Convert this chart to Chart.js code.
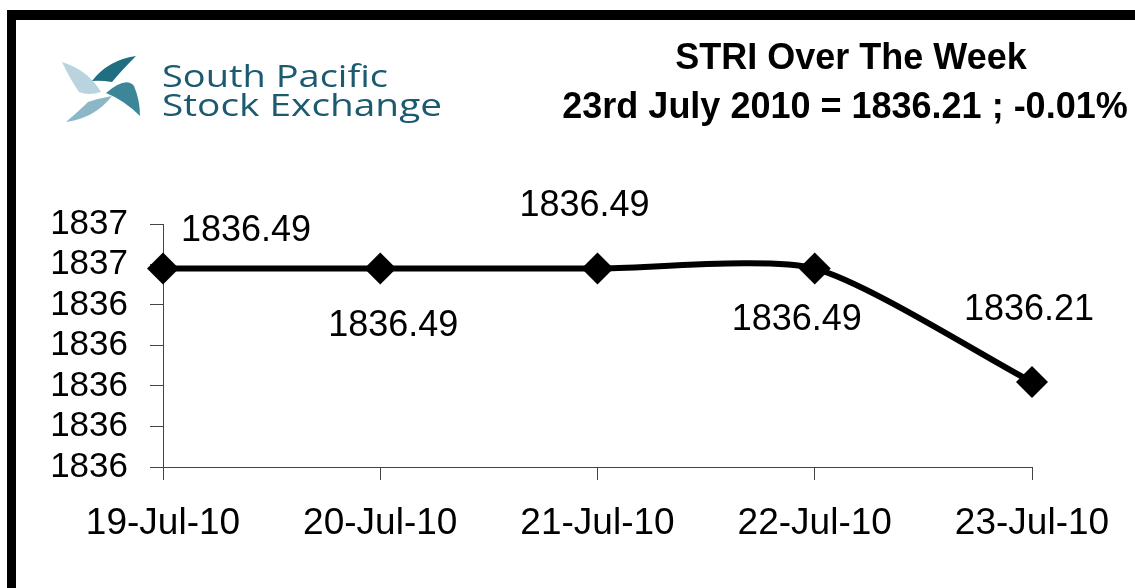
<!DOCTYPE html>
<html>
<head>
<meta charset="utf-8">
<title>STRI Over The Week</title>
<script src="https://cdn.jsdelivr.net/npm/chart.js@4.4.0/dist/chart.umd.min.js"></script>
<style>
  html, body { margin: 0; padding: 0; background: #fff; }
  #wrap { width: 1135px; height: 588px; position: relative; }
</style>
</head>
<body>
<div id="wrap"><canvas id="myChart"></canvas></div>
<script>
// data
const dates = ["19-Jul-10", "20-Jul-10", "21-Jul-10", "22-Jul-10", "23-Jul-10"];
const closeValues = [1836.49, 1836.49, 1836.49, 1836.49, 1836.21];
const yTickValues = [1836.0, 1836.1, 1836.2, 1836.3, 1836.4, 1836.5, 1836.6];
const titleLines = ["STRI Over The Week", "23rd July 2010 = 1836.21 ; -0.01%"];
const logoLines = ["South Pacific", "Stock Exchange"];

// where each value label sits relative to its point (px)
const labelOffsets = [[83, -41], [13, 54], [-13, -66], [-18, 48], [-3, -75]];

const FONT = "'Liberation Sans', Arial, sans-serif";

function drawLogo(ctx) {
  ctx.save();
  const blades = [
    ["#b9d4de", [[62, 62], [88, 70, 101, 92], [88, 96, 79, 92], [70, 79, 62, 62]]],
    ["#8cb7c7", [[112, 96], [95, 118, 66, 122], [80, 110, 88, 102], [100, 98, 112, 96]]],
    ["#3b8799", [[106, 93], [126, 76, 134, 86], [140, 100, 140, 116], [124, 100, 106, 93]]],
    ["#1f6e82", [[92, 81], [108, 60, 136, 56], [122, 70, 112, 82], [100, 80, 92, 81]]],
  ];
  blades.forEach(([color, pts]) => {
    ctx.beginPath();
    ctx.moveTo(pts[0][0], pts[0][1]);
    for (let i = 1; i < pts.length; i++) {
      const p = pts[i];
      ctx.quadraticCurveTo(p[0], p[1], p[2], p[3]);
    }
    ctx.closePath();
    ctx.fillStyle = color;
    ctx.fill();
  });

  ctx.fillStyle = "#1c5a70";
  ctx.textAlign = "left";
  ctx.textBaseline = "alphabetic";
  ctx.font = "31px 'Open Sans', 'DejaVu Sans', sans-serif";
  const targets = [[87, 226], [116, 280]];
  logoLines.forEach((txt, i) => {
    const w = ctx.measureText(txt).width;
    ctx.save();
    ctx.translate(162, targets[i][0]);
    ctx.scale(targets[i][1] / w, 1);
    ctx.fillText(txt, 0, 0);
    ctx.restore();
  });
  ctx.restore();
}

const decorPlugin = {
  id: "decor",
  beforeDraw(chart) {
    const ctx = chart.ctx;
    ctx.save();
    ctx.fillStyle = "#fff";
    ctx.fillRect(0, 0, chart.width, chart.height);
    // frame
    ctx.fillStyle = "#000";
    ctx.fillRect(7, 10, chart.width - 7, 10);
    ctx.fillRect(7, 10, 9, chart.height - 10);
    ctx.restore();
    drawLogo(ctx);

    ctx.save();
    ctx.fillStyle = "#000";
    ctx.textAlign = "center";
    ctx.textBaseline = "alphabetic";
    ctx.font = "bold 36px " + FONT;
    ctx.fillText(titleLines[0], 851, 69);
    ctx.fillText(titleLines[1], 845, 118);
    ctx.restore();
  },
  afterDatasetsDraw(chart) {
    const ctx = chart.ctx;
    const meta = chart.getDatasetMeta(0);
    ctx.save();
    ctx.fillStyle = "#000";
    ctx.font = "36px " + FONT;
    ctx.textAlign = "center";
    ctx.textBaseline = "alphabetic";
    meta.data.forEach((pt, i) => {
      const off = labelOffsets[i];
      ctx.fillText(closeValues[i].toFixed(2), pt.x + off[0], pt.y + off[1] + 13);
    });
    ctx.restore();
  },
};

const ctx = document.getElementById("myChart");
new Chart(ctx, {
  type: "line",
  data: {
    labels: dates,
    datasets: [
      {
        label: "STRI",
        data: closeValues,
        borderColor: "#000",
        borderWidth: 6,
        backgroundColor: "#000",
        pointStyle: "rectRot",
        pointRadius: 16,
        pointHoverRadius: 16,
        pointBackgroundColor: "#000",
        pointBorderColor: "#000",
        pointBorderWidth: 0,
        tension: 0.22,
        fill: false,
        clip: false,
      },
    ],
  },
  options: {
    responsive: true,
    maintainAspectRatio: false,
    animation: false,
    events: [],
    layout: { padding: { top: 224, right: 103, left: 0, bottom: 0 } },
    plugins: {
      legend: { display: false },
      title: { display: false },
      tooltip: { enabled: false },
    },
    scales: {
      x: {
        offset: false,
        border: { color: "#444", width: 1 },
        grid: { drawOnChartArea: false, drawTicks: true, tickLength: 13, color: "#444" },
        ticks: {
          color: "#000",
          font: { family: FONT, size: 37 },
          padding: 22,
          maxRotation: 0,
          autoSkip: false,
        },
        afterFit(scale) { scale.height = 121; },
      },
      y: {
        min: 1836.0,
        max: 1836.6,
        border: { color: "#444", width: 1 },
        grid: { drawOnChartArea: false, drawTicks: true, tickLength: 13, color: "#444" },
        afterBuildTicks(scale) {
          scale.ticks = yTickValues.map((v) => ({ value: v }));
        },
        ticks: {
          color: "#000",
          font: { family: FONT, size: 35 },
          padding: 22,
          autoSkip: false,
          callback: (v) => Math.round(v).toString(),
        },
        afterFit(scale) { scale.width = 163; },
      },
    },
  },
  plugins: [decorPlugin],
});
</script>
</body>
</html>
